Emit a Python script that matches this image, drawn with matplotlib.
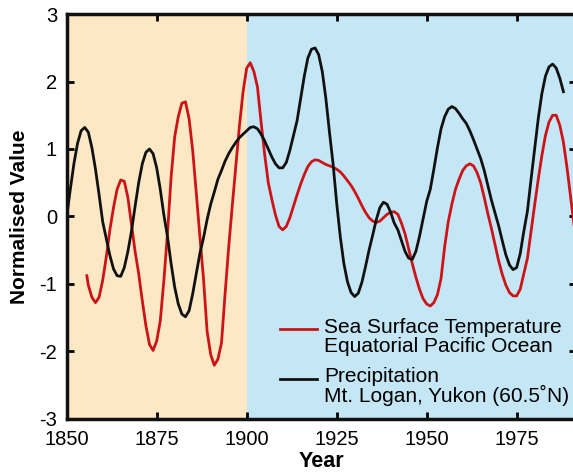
import matplotlib
matplotlib.use("Agg")
import matplotlib.pyplot as plt
import numpy as np

# Precipitation, Mt. Logan (normalised), one value per year
precip_years = np.arange(1850, 1989)
precip = [
    0.00, 0.40, 0.78, 1.08, 1.27, 1.32, 1.25, 1.02, 0.70, 0.32,   # 1850s
    -0.08, -0.33, -0.58, -0.78, -0.88, -0.89, -0.76, -0.52, -0.22, 0.15,   # 1860s
    0.50, 0.78, 0.95, 1.00, 0.93, 0.72, 0.40, 0.02, -0.30, -0.70,   # 1870s
    -1.05, -1.30, -1.45, -1.49, -1.40, -1.15, -0.85, -0.55, -0.32, -0.05,   # 1880s
    0.18, 0.36, 0.55, 0.68, 0.82, 0.93, 1.02, 1.10, 1.17, 1.22,   # 1890s
    1.27, 1.32, 1.33, 1.30, 1.22, 1.12, 1.00, 0.88, 0.78, 0.72,   # 1900s
    0.72, 0.80, 0.98, 1.20, 1.42, 1.75, 2.08, 2.35, 2.48, 2.50,   # 1910s
    2.40, 2.15, 1.75, 1.25, 0.78, 0.20, -0.30, -0.70, -0.97, -1.13,   # 1920s
    -1.19, -1.14, -0.98, -0.75, -0.50, -0.28, -0.05, 0.13, 0.21, 0.18,   # 1930s
    0.06, -0.10, -0.20, -0.36, -0.52, -0.62, -0.64, -0.52, -0.30, -0.04,   # 1940s
    0.22, 0.40, 0.70, 1.02, 1.30, 1.48, 1.59, 1.63, 1.60, 1.53,   # 1950s
    1.45, 1.38, 1.27, 1.14, 1.00, 0.86, 0.68, 0.46, 0.24, 0.05,   # 1960s
    -0.14, -0.36, -0.57, -0.72, -0.79, -0.76, -0.55, -0.22, 0.08, 0.55,   # 1970s
    1.00, 1.45, 1.82, 2.08, 2.22, 2.26, 2.20, 2.05, 1.85,   # 1980s
]

# Sea surface temperature, equatorial Pacific (normalised)
sst_years = np.concatenate([[1855.6], np.arange(1856, 1992)])
sst = [
    -0.88,
    -1.02, -1.20, -1.28, -1.20,   # 1856-59
    -0.95, -0.60, -0.20, 0.13, 0.40, 0.54, 0.52, 0.28, -0.12, -0.52,   # 1860s
    -0.85, -1.25, -1.62, -1.90, -1.99, -1.85, -1.55, -0.95, -0.25, 0.58,   # 1870s
    1.18, 1.48, 1.68, 1.70, 1.45, 0.98, 0.35, -0.30, -0.92, -1.70,   # 1880s
    -2.05, -2.21, -2.12, -1.88, -1.15, -0.46, 0.16, 0.75, 1.35, 1.85,   # 1890s
    2.20, 2.28, 2.15, 1.92, 1.40, 0.92, 0.50, 0.25, 0.02, -0.15,   # 1900s
    -0.20, -0.15, -0.02, 0.15, 0.32, 0.48, 0.62, 0.74, 0.81, 0.84,   # 1910s
    0.83, 0.80, 0.77, 0.75, 0.73, 0.70, 0.66, 0.60, 0.53, 0.46,   # 1920s
    0.37, 0.27, 0.16, 0.06, -0.02, -0.07, -0.09, -0.07, -0.02, 0.03,   # 1930s
    0.06, 0.07, 0.03, -0.10, -0.26, -0.48, -0.70, -0.90, -1.08, -1.22,   # 1940s
    -1.30, -1.33, -1.28, -1.16, -0.92, -0.45, -0.08, 0.18, 0.40, 0.55,   # 1950s
    0.68, 0.75, 0.78, 0.75, 0.65, 0.50, 0.28, 0.04, -0.18, -0.42,   # 1960s
    -0.66, -0.86, -1.02, -1.13, -1.18, -1.18, -1.08, -0.85, -0.62, -0.22,   # 1970s
    0.17, 0.55, 0.90, 1.20, 1.40, 1.50, 1.50, 1.35, 1.10, 0.72,   # 1980s
    0.28, -0.15,   # 1990-91
]

x_ticks = [1850, 1875, 1900, 1925, 1950, 1975]
y_ticks = [-3, -2, -1, 0, 1, 2, 3]

sst_label = ['Sea Surface Temperature', 'Equatorial Pacific Ocean']
precip_label = ['Precipitation', 'Mt. Logan, Yukon (60.5˚N)']

plt.rcParams['font.family'] = ['Liberation Sans', 'DejaVu Sans']
plt.rcParams['axes.unicode_minus'] = False

fig = plt.figure(figsize=(5.73, 4.74), dpi=100)
ax = fig.add_axes([0.1164, 0.117, 0.8889, 0.853])

# shaded periods
ax.axvspan(1850, 1900, color='#fde8c5', lw=0, zorder=0)
ax.axvspan(1900, 1995, color='#c5e7f5', lw=0, zorder=0)

ax.plot(sst_years, sst, color='#cc1418', lw=2.0)
ax.plot(precip_years, precip, color='#111111', lw=2.0)

ax.set_xlim(1850, 1991.5)
ax.set_ylim(-3, 3)
ax.set_xticks(x_ticks)
ax.set_yticks(y_ticks)
ax.tick_params(direction='in', length=5, width=2, labelsize=14.5,
               top=True, right=True)
ax.tick_params(axis='x', pad=8)
ax.tick_params(axis='y', pad=7)
for s in ax.spines.values():
    s.set_linewidth(2.5)
    s.set_color('#111111')

ax.set_xlabel('Year', fontsize=15.5, fontweight='bold', labelpad=2)
ax.set_ylabel('Normalised Value', fontsize=15, fontweight='bold', labelpad=7)

# legend drawn by hand so each key sits level with its first text line
tr = ax.transAxes
ax.plot([0.419, 0.492], [0.221, 0.221], color='#cc1418', lw=2.0, transform=tr)
ax.plot([0.419, 0.492], [0.098, 0.098], color='#111111', lw=2.0, transform=tr)
for y, line in zip([0.226, 0.179], sst_label):
    ax.text(0.505, y, line, transform=tr, fontsize=15, va='center', ha='left')
for y, line in zip([0.103, 0.058], precip_label):
    ax.text(0.505, y, line, transform=tr, fontsize=15, va='center', ha='left')

fig.savefig('out.png', dpi=100)
